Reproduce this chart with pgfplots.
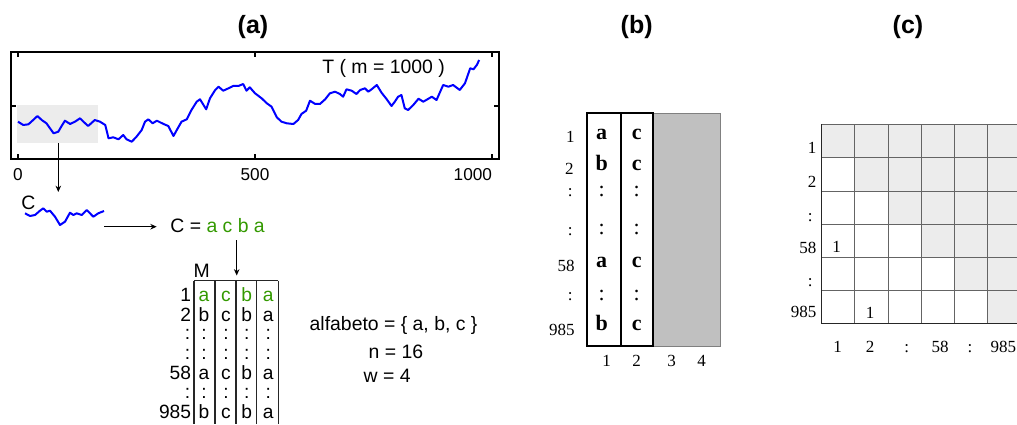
\documentclass[border=0pt]{standalone}
\usepackage{pgfplots}
\pgfplotsset{compat=1.18}
\usepackage{fontspec}
\setmainfont{Liberation Sans}
\newfontfamily\serif{Liberation Serif}
\usetikzlibrary{arrows.meta}
\definecolor{sgreen}{RGB}{51,153,0}
\definecolor{lshade}{RGB}{236,236,236}
\definecolor{bgray}{RGB}{192,192,192}
\definecolor{gline}{RGB}{100,100,100}
\newcommand\af{\fontsize{9.7}{11}\selectfont}
\newcommand\mf{\fontsize{9.6}{11}\selectfont}
\newcommand\tf{\bfseries\fontsize{12.5}{14}\selectfont}
\newcommand\srf{\serif\fontsize{8.5}{10}\selectfont}
\newcommand\bsf{\serif\bfseries\fontsize{11}{12}\selectfont}
\newcommand\csf{\serif\fontsize{11}{12}\selectfont}
\tikzset{arr/.style={line width=0.5pt,-{Stealth[length=3.2pt,width=2.8pt]}}}
\begin{document}
\begin{tikzpicture}
\useasboundingbox (0,0) rectangle (508.5pt,212pt);
% ---------------- time series T ----------------
\begin{axis}[at={(5.5pt,132.5pt)}, anchor=south west,
  width=244pt, height=53.5pt, scale only axis,
  xmin=-14.8, xmax=1014.8, ymin=0, ymax=107,
  xtick={0,500,1000}, xticklabels={0,500,\makebox[0pt][r]{1000}},
  ytick={53}, yticklabels={},
  tick align=inside, major tick length=2.5pt,
  axis line style={line width=0.6pt},
  every tick/.style={line width=0.6pt,black},
  xticklabel style={font=\fontsize{8.6}{10}\selectfont, yshift=-1pt},
  /pgf/number format/assume math mode=true]
\fill[lshade] (axis cs:-3,16.3) rectangle (axis cs:168,54);
\addplot[blue, line width=1pt, line join=round] coordinates {
(0,37.3)(11,34)(22,34.7)(32,39)(41,43)(50,39)(60,35.7)(75,25.7)(85,27.3)(92,33)
(99,38.3)(110,35)(120,37.3)(131,40.7)(138,37.3)(148,33)(162,39)(173,37.3)(184,34)
(191,20.7)(201,21.7)(212,19.7)(222,24)(229,19.7)(240,17.3)(250,22.3)(261,29)(268,37.3)
(275,39.7)(284,35.7)(293,38.3)(307,35)(317,33)(328,23)(335,29)(345,37.3)(356,39.7)
(366,49)(377,57.3)(384,59.7)(397,49.7)(405,60.7)(416,69)(423,72.3)(433,68.3)(444,70.7)
(454,73)(465,73)(475,75)(482,68.3)(489,71.7)(500,65.7)(514,60.7)(525,55.7)(535,52.3)
(546,41.7)(556,37.3)(567,35.7)(581,35)(591,39)(598,45)(608,48.3)(616,58.3)(627,55)
(637,55)(648,59.7)(658,65.7)(669,67.3)(679,65)(686,62.3)(693,69.7)(704,68.3)(714,65)
(722,69)(732,70.7)(739,67.3)(746,69.7)(757,74)(767,66.3)(778,59.7)(788,53)(795,57.3)
(802,62.3)(809,64)(816,50.7)(823,49)(834,54)(845,60.3)(855,57.3)(866,60.3)(873,62.3)
(883,59)(897,74)(908,72.3)(918,74)(932,69)(943,75.7)(954,90.7)(961,89.7)(968,94)(973,99)
};
\end{axis}
% ---------------- overlay ----------------
\begin{axis}[at={(0,0)}, anchor=south west, width=508.5pt, height=212pt,
  scale only axis, hide axis, clip=false,
  xmin=0, xmax=1017, ymin=0, ymax=424, y dir=reverse]
% titles
\node[font=\tf] at (253,26.7) {(a)};
\node[font=\tf] at (636.7,26.7) {(b)};
\node[font=\tf] at (908,27) {(c)};
\node[font=\af, anchor=base west, inner sep=0] at (322,73.3) {T ( m = 1000 )};
% arrow from window
\draw[arr] (58.3,143) -- (58.3,192);
% small C curve
\node[font=\af, anchor=base, inner sep=0] at (28.3,209.3) {C};
\addplot[blue, line width=1pt, line join=round] coordinates {
(25,213.3)(30,216)(35,215)(40,210.7)(43.3,208.3)(46.7,211.7)(50,210.7)(55,216.7)
(60,225)(65,221.7)(70,212.7)(73.3,215)(76.7,213.3)(81.7,215)(86.7,210)(90,213.3)
(93.3,216.7)(98.3,213.3)(104,211)};
\draw[arr] (104,226.7) -- (156.7,226.7);
\node[font=\af, anchor=base west, inner sep=0] at (170,232.7) {C = \textcolor{sgreen}{a c b a}};
\draw[arr] (236.7,240) -- (236.7,275.5);
% table M
\node[font=\af, anchor=base, inner sep=0] at (201.7,277.3) {M};
\draw[black!85, line width=0.6pt] (194,280.7) -- (278.3,280.7);
\draw[black!85, line width=0.6pt] (194,280.7) -- (194,424);
\draw[black!85, line width=0.6pt] (215,280.7) -- (215,424);
\draw[black!85, line width=0.6pt] (236,280.7) -- (236,424);
\draw[black!85, line width=0.6pt] (256.7,280.7) -- (256.7,424);
\draw[black!85, line width=0.6pt] (278.3,280.7) -- (278.3,424);
% row labels
\node[font=\mf, anchor=base east, inner sep=0] at (191.5,301.7) {1};
\node[font=\mf, anchor=base east, inner sep=0] at (191.5,321) {2};
\node[font=\mf, anchor=base east, inner sep=0] at (190.5,339.3) {:};
\node[font=\mf, anchor=base east, inner sep=0] at (190.5,359) {:};
\node[font=\mf, anchor=base east, inner sep=0] at (191.5,379.3) {58};
\node[font=\mf, anchor=base east, inner sep=0] at (190.5,398) {:};
\node[font=\mf, anchor=base east, inner sep=0] at (191.5,418.3) {985};
% row 1 (green)
\node[font=\mf, anchor=base, inner sep=0, text=sgreen] at (204,301.7) {a};
\node[font=\mf, anchor=base, inner sep=0, text=sgreen] at (226,301.7) {c};
\node[font=\mf, anchor=base, inner sep=0, text=sgreen] at (246.7,301.7) {b};
\node[font=\mf, anchor=base, inner sep=0, text=sgreen] at (268.3,301.7) {a};
% row 2
\node[font=\mf, anchor=base, inner sep=0] at (204,321) {b};
\node[font=\mf, anchor=base, inner sep=0] at (226,321) {c};
\node[font=\mf, anchor=base, inner sep=0] at (246.7,321) {b};
\node[font=\mf, anchor=base, inner sep=0] at (268.3,321) {a};
% dots
\node[font=\mf, anchor=base, inner sep=0] at (204,339.3) {:};
\node[font=\mf, anchor=base, inner sep=0] at (226,339.3) {:};
\node[font=\mf, anchor=base, inner sep=0] at (246.7,339.3) {:};
\node[font=\mf, anchor=base, inner sep=0] at (268.3,339.3) {:};
\node[font=\mf, anchor=base, inner sep=0] at (204,359) {:};
\node[font=\mf, anchor=base, inner sep=0] at (226,359) {:};
\node[font=\mf, anchor=base, inner sep=0] at (246.7,359) {:};
\node[font=\mf, anchor=base, inner sep=0] at (268.3,359) {:};
% row 58
\node[font=\mf, anchor=base, inner sep=0] at (204,379.3) {a};
\node[font=\mf, anchor=base, inner sep=0] at (226,379.3) {c};
\node[font=\mf, anchor=base, inner sep=0] at (246.7,379.3) {b};
\node[font=\mf, anchor=base, inner sep=0] at (268.3,379.3) {a};
\node[font=\mf, anchor=base, inner sep=0] at (204,398) {:};
\node[font=\mf, anchor=base, inner sep=0] at (226,398) {:};
\node[font=\mf, anchor=base, inner sep=0] at (246.7,398) {:};
\node[font=\mf, anchor=base, inner sep=0] at (268.3,398) {:};
% row 985
\node[font=\mf, anchor=base, inner sep=0] at (204,418.3) {b};
\node[font=\mf, anchor=base, inner sep=0] at (226,418.3) {c};
\node[font=\mf, anchor=base, inner sep=0] at (246.7,418.3) {b};
\node[font=\mf, anchor=base, inner sep=0] at (268.3,418.3) {a};
% parameters
\node[font=\af, anchor=base west, inner sep=0] at (309.3,330.7) {alfabeto = \{ a, b, c \}};
\node[font=\af, anchor=base west, inner sep=0] at (368.3,358.3) {n = 16};
\node[font=\af, anchor=base west, inner sep=0] at (363.3,382.7) {w = 4};
% ---------------- panel (b) ----------------
\fill[bgray] (653.3,113.3) rectangle (720.7,346);
\draw[gray, line width=0.5pt] (653.3,113.3) -- (720.7,113.3) -- (720.7,346) -- (653.3,346);
\draw[black, line width=0.9pt] (586.7,113.3) rectangle (620.7,346);
\draw[black, line width=0.9pt] (620.7,113.3) rectangle (653.3,346);
\node[font=\srf, anchor=base east, inner sep=0] at (575,142.7) {1};
\node[font=\srf, anchor=base east, inner sep=0] at (574,174) {2};
\node[font=\srf, anchor=base east, inner sep=0] at (573,196) {:};
\node[font=\srf, anchor=base east, inner sep=0] at (573,235) {:};
\node[font=\srf, anchor=base east, inner sep=0] at (575,271.7) {58};
\node[font=\srf, anchor=base east, inner sep=0] at (573,300) {:};
\node[font=\srf, anchor=base east, inner sep=0] at (575,335) {985};
\node[font=\bsf, anchor=base, inner sep=0] at (601.7,139.3) {a};
\node[font=\bsf, anchor=base, inner sep=0] at (636.7,139.3) {c};
\node[font=\bsf, anchor=base, inner sep=0] at (601.7,170) {b};
\node[font=\bsf, anchor=base, inner sep=0] at (636.7,170) {c};
\node[font=\csf, anchor=base, inner sep=0] at (601.7,196) {:};
\node[font=\csf, anchor=base, inner sep=0] at (636.7,196) {:};
\node[font=\csf, anchor=base, inner sep=0] at (601.7,234) {:};
\node[font=\csf, anchor=base, inner sep=0] at (636.7,234) {:};
\node[font=\bsf, anchor=base, inner sep=0] at (601.7,267.3) {a};
\node[font=\bsf, anchor=base, inner sep=0] at (636.7,267.3) {c};
\node[font=\csf, anchor=base, inner sep=0] at (601.7,300) {:};
\node[font=\csf, anchor=base, inner sep=0] at (636.7,300) {:};
\node[font=\bsf, anchor=base, inner sep=0] at (601.7,330.7) {b};
\node[font=\bsf, anchor=base, inner sep=0] at (636.7,330.7) {c};
\node[font=\srf, anchor=base, inner sep=0] at (606.7,366) {1};
\node[font=\srf, anchor=base, inner sep=0] at (636.7,366) {2};
\node[font=\srf, anchor=base, inner sep=0] at (671.7,366) {3};
\node[font=\srf, anchor=base, inner sep=0] at (701.7,366) {4};
% ---------------- panel (c) ----------------
\fill[lshade] (821.7,124.3) -- (1017,124.3) -- (1017,323.3) -- (987.3,323.3) -- (987.3,290.3)
  -- (954.3,290.3) -- (954.3,257) -- (921,257) -- (921,224.3) -- (888.3,224.3) -- (888.3,191)
  -- (854.3,191) -- (854.3,157.7) -- (821.7,157.7) -- cycle;
\draw[gline, line width=0.5pt] (821.7,124.3) -- (1017,124.3);
\draw[gline, line width=0.5pt] (821.7,157.7) -- (1017,157.7);
\draw[gline, line width=0.5pt] (821.7,191) -- (1017,191);
\draw[gline, line width=0.5pt] (821.7,224.3) -- (1017,224.3);
\draw[gline, line width=0.5pt] (821.7,257) -- (1017,257);
\draw[gline, line width=0.5pt] (821.7,290.3) -- (1017,290.3);
\draw[gline, line width=0.5pt] (854.3,124.3) -- (854.3,323.3);
\draw[gline, line width=0.5pt] (888.3,124.3) -- (888.3,323.3);
\draw[gline, line width=0.5pt] (921,124.3) -- (921,323.3);
\draw[gline, line width=0.5pt] (954.3,124.3) -- (954.3,323.3);
\draw[gline, line width=0.5pt] (987.3,124.3) -- (987.3,323.3);
\draw[black!85, line width=0.6pt] (821.7,124.3) -- (821.7,323.3) -- (1017,323.3);
\node[font=\srf, anchor=base east, inner sep=0] at (816.7,153.3) {1};
\node[font=\srf, anchor=base east, inner sep=0] at (816.7,187.3) {2};
\node[font=\srf, anchor=base east, inner sep=0] at (813,221.7) {:};
\node[font=\srf, anchor=base east, inner sep=0] at (816.7,253.3) {58};
\node[font=\srf, anchor=base east, inner sep=0] at (813,286.7) {:};
\node[font=\srf, anchor=base east, inner sep=0] at (816.7,317.3) {985};
\node[font=\srf, anchor=base, inner sep=0] at (836.7,252.7) {1};
\node[font=\srf, anchor=base, inner sep=0] at (870,318.3) {1};
\node[font=\srf, anchor=base, inner sep=0] at (837.7,352.7) {1};
\node[font=\srf, anchor=base, inner sep=0] at (870,352.7) {2};
\node[font=\srf, anchor=base, inner sep=0] at (906.7,352.7) {:};
\node[font=\srf, anchor=base, inner sep=0] at (940,352.7) {58};
\node[font=\srf, anchor=base, inner sep=0] at (970,352.7) {:};
\node[font=\srf, anchor=base, inner sep=0] at (1003.3,352.7) {985};
\end{axis}
\end{tikzpicture}
\end{document}
